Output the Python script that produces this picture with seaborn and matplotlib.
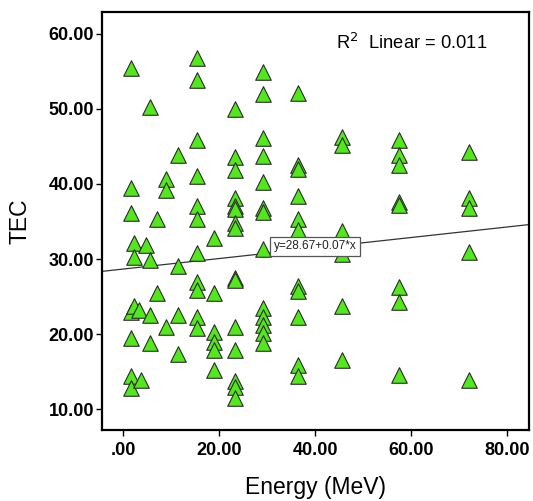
import pandas as pd
import matplotlib
matplotlib.use("Agg")
import matplotlib.pyplot as plt
import seaborn as sns

# values (SPSS style chart)
ENERGY = [
    1.6, 1.6, 1.6, 1.6, 1.6, 1.6, 1.6,
    2.3, 2.3, 2.3,
    3.3, 3.7, 4.7,
    5.6, 5.6, 5.6, 5.6,
    7.0, 7.0,
    8.9, 8.9, 8.9,
    11.3, 11.3, 11.3, 11.3,
    15.4, 15.4, 15.4, 15.4, 15.4, 15.4, 15.4, 15.4, 15.4, 15.4, 15.4,
    18.9, 18.9, 18.9, 18.9, 18.9, 18.9,
    23.3, 23.3, 23.3, 23.3, 23.3, 23.3, 23.3, 23.3, 23.3, 23.3, 23.3, 23.3, 23.3, 23.3, 23.3,
    29.1, 29.1, 29.1, 29.1, 29.1, 29.1, 29.1, 29.1, 29.1, 29.1, 29.1, 29.1, 29.1,
    36.4, 36.4, 36.4, 36.4, 36.4, 36.4, 36.4, 36.4, 36.4, 36.4, 36.4,
    45.5, 45.5, 45.5, 45.5, 45.5, 45.5,
    57.4, 57.4, 57.4, 57.4, 57.4, 57.4, 57.4, 57.4,
    72.0, 72.0, 72.0, 72.0, 72.0,
]
TEC = [
    55.4, 39.4, 36.1, 23.0, 19.5, 14.4, 12.8,
    32.1, 30.3, 23.7,
    23.2, 13.9, 31.9,
    50.2, 29.9, 22.5, 18.8,
    35.3, 25.5,
    40.7, 39.2, 21.0,
    43.9, 29.1, 22.5, 17.4,
    56.8, 53.8, 45.8, 41.0, 37.0, 35.3, 30.8, 27.0, 25.9, 22.3, 20.8,
    32.8, 25.5, 20.3, 19.0, 17.9, 15.2,
    50.0, 43.6, 41.8, 38.1, 37.0, 36.6, 34.8, 34.1, 27.5, 27.2, 21.0, 17.9, 13.7, 13.0, 11.5,
    54.9, 52.0, 46.1, 43.7, 40.3, 36.8, 36.3, 31.3, 23.5, 22.3, 21.2, 20.1, 18.8,
    52.1, 42.5, 42.0, 38.4, 35.4, 33.9, 26.4, 25.7, 22.3, 15.9, 14.4,
    46.2, 45.2, 33.7, 30.7, 23.8, 16.6,
    45.8, 43.8, 42.5, 37.6, 37.2, 26.3, 24.3, 14.6,
    44.3, 38.1, 36.8, 31.0, 13.9,
]

X_TICKS = [0, 20, 40, 60, 80]
X_TICK_LABELS = ['.00', '20.00', '40.00', '60.00', '80.00']
Y_TICKS = [10, 20, 30, 40, 50, 60]
Y_TICK_LABELS = ['10.00', '20.00', '30.00', '40.00', '50.00', '60.00']

FIT_INTERCEPT = 28.67
FIT_SLOPE = 0.07
R2_LINEAR = 0.011


def main():
    sns.set_style('white')
    plt.rcParams['font.family'] = ['Liberation Sans', 'DejaVu Sans']
    plt.rcParams.update({
        'text.color': 'black',
        'axes.labelcolor': 'black',
        'xtick.color': 'black',
        'ytick.color': 'black',
    })

    df = pd.DataFrame({'Energy (MeV)': ENERGY, 'TEC': TEC})

    fig = plt.figure(figsize=(5.33, 5.01), dpi=100)
    ax = fig.add_axes([0.191, 0.142, 0.801, 0.834])

    sns.scatterplot(data=df, x='Energy (MeV)', y='TEC', marker='^', s=125,
                    color='#52E81C', edgecolor='#2b2b2b', linewidth=0.8,
                    ax=ax, zorder=3)

    # fit line as reported in the chart
    ax.axline((0, FIT_INTERCEPT), slope=FIT_SLOPE, color='#333333',
              lw=0.9, zorder=2)
    ax.text(40.0, 31.7, 'y=%.2f+%.2f*x' % (FIT_INTERCEPT, FIT_SLOPE),
            fontsize=8.5, ha='center', va='center', color='#222222', zorder=5,
            bbox=dict(boxstyle='square,pad=0.3', fc='white', ec='#555555', lw=0.9))
    ax.text(0.548, 0.926, r'R$^2$  Linear = %.3f' % R2_LINEAR, transform=ax.transAxes,
            fontsize=13.2, ha='left', va='center', color='black')

    ax.set_xlim(-4.5, 84.5)
    ax.set_ylim(7.25, 62.9)
    ax.set_xticks(X_TICKS)
    ax.set_xticklabels(X_TICK_LABELS, fontweight='bold', fontsize=13)
    ax.set_yticks(Y_TICKS)
    ax.set_yticklabels(Y_TICK_LABELS, fontweight='bold', fontsize=13)
    ax.tick_params(axis='x', direction='out', length=4.5, width=1, color='black',
                   pad=4.5, bottom=True)
    ax.tick_params(axis='y', direction='out', length=4.5, width=1, color='black',
                   pad=1, left=True)
    ax.set_xlabel('Energy (MeV)', fontsize=16.5, labelpad=12)
    ax.set_ylabel('TEC', fontsize=16.5)
    ax.yaxis.set_label_coords(-0.165, 0.5)

    for spine in ax.spines.values():
        spine.set_color('black')
        spine.set_linewidth(1.6)

    fig.savefig('out.png', dpi=100)


if __name__ == "__main__":
    main()
